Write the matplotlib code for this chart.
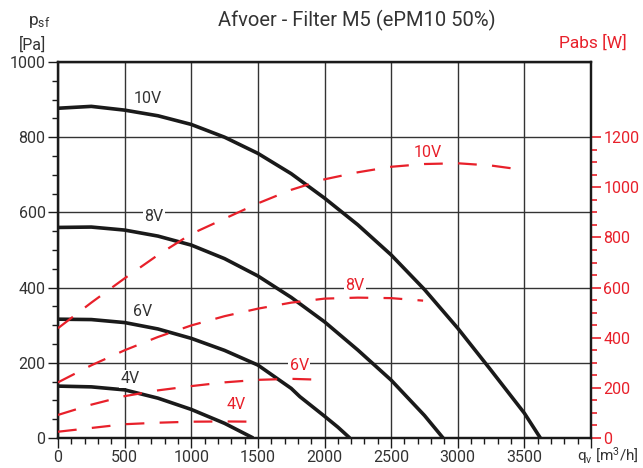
import matplotlib.pyplot as plt
from matplotlib.ticker import MultipleLocator, FixedLocator

plt.rcParams['font.family'] = ['Roboto', 'DejaVu Sans']
plt.rcParams['mathtext.default'] = 'regular'
plt.rcParams['lines.scale_dashes'] = False

# fan curves, static pressure [Pa] vs airflow [m3/h]
q_10v = [0, 250, 500, 750, 1000, 1250, 1500, 1750, 2000, 2250, 2500, 2750, 3000, 3250, 3500, 3620]
p_10v = [877, 882, 872, 857, 834, 800, 757, 703, 638, 567, 487, 395, 292, 180, 66, 0]
q_8v = [0, 250, 500, 750, 1000, 1250, 1500, 1750, 2000, 2250, 2500, 2750, 2890]
p_8v = [560, 561, 553, 537, 513, 477, 431, 374, 309, 234, 154, 60, 0]
q_6v = [0, 250, 500, 750, 1000, 1250, 1500, 1750, 1815, 2000, 2100, 2190]
p_6v = [316, 315, 307, 290, 265, 233, 194, 132, 110, 58, 29, 0]
q_4v = [0, 250, 500, 750, 1000, 1250, 1465]
p_4v = [138, 136, 128, 106, 76, 39, 0]

# absorbed power [W]
qw_10v = [0, 250, 500, 750, 1000, 1250, 1500, 1750, 2000, 2250, 2500, 2750, 3000, 3250, 3500]
w_10v = [438, 540, 637, 730, 814, 875, 936, 990, 1032, 1060, 1082, 1093, 1096, 1087, 1069]
qw_8v = [0, 250, 500, 750, 1000, 1250, 1500, 1750, 2000, 2250, 2500, 2740]
w_8v = [222, 290, 350, 403, 449, 486, 516, 540, 556, 560, 558, 548]
qw_6v = [0, 250, 500, 750, 1000, 1250, 1500, 1750, 2000]
w_6v = [92, 133, 167, 190, 207, 222, 232, 236, 232]
qw_4v = [0, 250, 500, 750, 1000, 1250, 1500]
w_4v = [25, 40, 55, 61, 65, 66, 65]

dark = '#333333'
red = '#e8202a'

fig = plt.figure(figsize=(6.43, 4.68), dpi=100)
ax = fig.add_axes([58/643, 1-438/468, 533/643, 376/468])
ax2 = ax.twinx()

for q, p in [(q_10v, p_10v), (q_8v, p_8v), (q_6v, p_6v), (q_4v, p_4v)]:
    ax.plot(q, p, color='#1a1a1a', lw=2.6, solid_capstyle='butt',
            solid_joinstyle='round', zorder=3)

for q, w in [(qw_10v, w_10v), (qw_8v, w_8v), (qw_6v, w_6v), (qw_4v, w_4v)]:
    ax2.plot(q, w, color=red, lw=1.6, dashes=(13.5, 11), zorder=3)

ax.set_xlim(0, 4000)
ax.set_ylim(0, 1000)
ax2.set_ylim(0, 1500)

ax.xaxis.set_major_locator(FixedLocator([0, 500, 1000, 1500, 2000, 2500, 3000, 3500, 4000]))
ax.xaxis.set_minor_locator(MultipleLocator(100))
ax.set_xticklabels(['0', '500', '1000', '1500', '2000', '2500', '3000', '3500', ''])
ax.yaxis.set_major_locator(MultipleLocator(200))
ax.yaxis.set_minor_locator(MultipleLocator(50))

ax2.yaxis.set_major_locator(FixedLocator([0, 200, 400, 600, 800, 1000, 1200]))
ax2.yaxis.set_minor_locator(FixedLocator(list(range(0, 1250, 50))))

ax.grid(True, which='major', color=dark, lw=1.0)
ax.set_axisbelow(True)

ax.tick_params(axis='both', which='major', length=7, width=1.0, color='#1a1a1a',
               labelsize=11.5, labelcolor=dark, pad=2)
ax.tick_params(axis='both', which='minor', length=4, width=1.0, color='#1a1a1a')
ax2.tick_params(axis='y', which='major', length=7, width=1.2, color=red,
                labelsize=11.5, labelcolor=red, pad=2)
ax2.tick_params(axis='y', which='minor', length=4, width=1.2, color=red)

for a in (ax, ax2):
    for s in a.spines.values():
        s.set_linewidth(1.6)
        s.set_color('#1a1a1a')

# curve labels
lbl = dict(fontsize=11.5, ha='center', va='center', zorder=4,
           bbox=dict(facecolor='white', edgecolor='none', pad=1))
ax.text(675, 902, '10V', color=dark, zorder=4, fontsize=11.5, ha='center', va='center')
ax.text(720, 590, '8V', color=dark, **lbl)
ax.text(638, 336, '6V', color=dark, **lbl)
ax.text(540, 158, '4V', color=dark, **lbl)
ax2.text(2775, 1140, '10V', color=red, **lbl)
ax2.text(2230, 610, '8V', color=red, **lbl)
ax2.text(1810, 290, '6V', color=red, **lbl)
ax2.text(1335, 135, '4V', color=red, **lbl)

fig.text(357/643, 1-20/468, 'Afvoer - Filter M5 (ePM10 50%)', fontsize=14.5,
         color=dark, ha='center', va='center')
fig.text(39/643, 1-22/468, '$p_{sf}$', fontsize=12.5, color=dark, ha='center', va='center')
fig.text(32/643, 1-45/468, '[Pa]', fontsize=11.5, color=dark, ha='center', va='center')
fig.text(627/643, 1-43/468, 'Pabs [W]', fontsize=12.5, color=red, ha='right', va='center')
fig.text(639/643, 1-456/468, 'q$_v$ [m$^3$/h]', fontsize=11, color=dark, ha='right', va='center')

fig.savefig('out.png', dpi=100)
